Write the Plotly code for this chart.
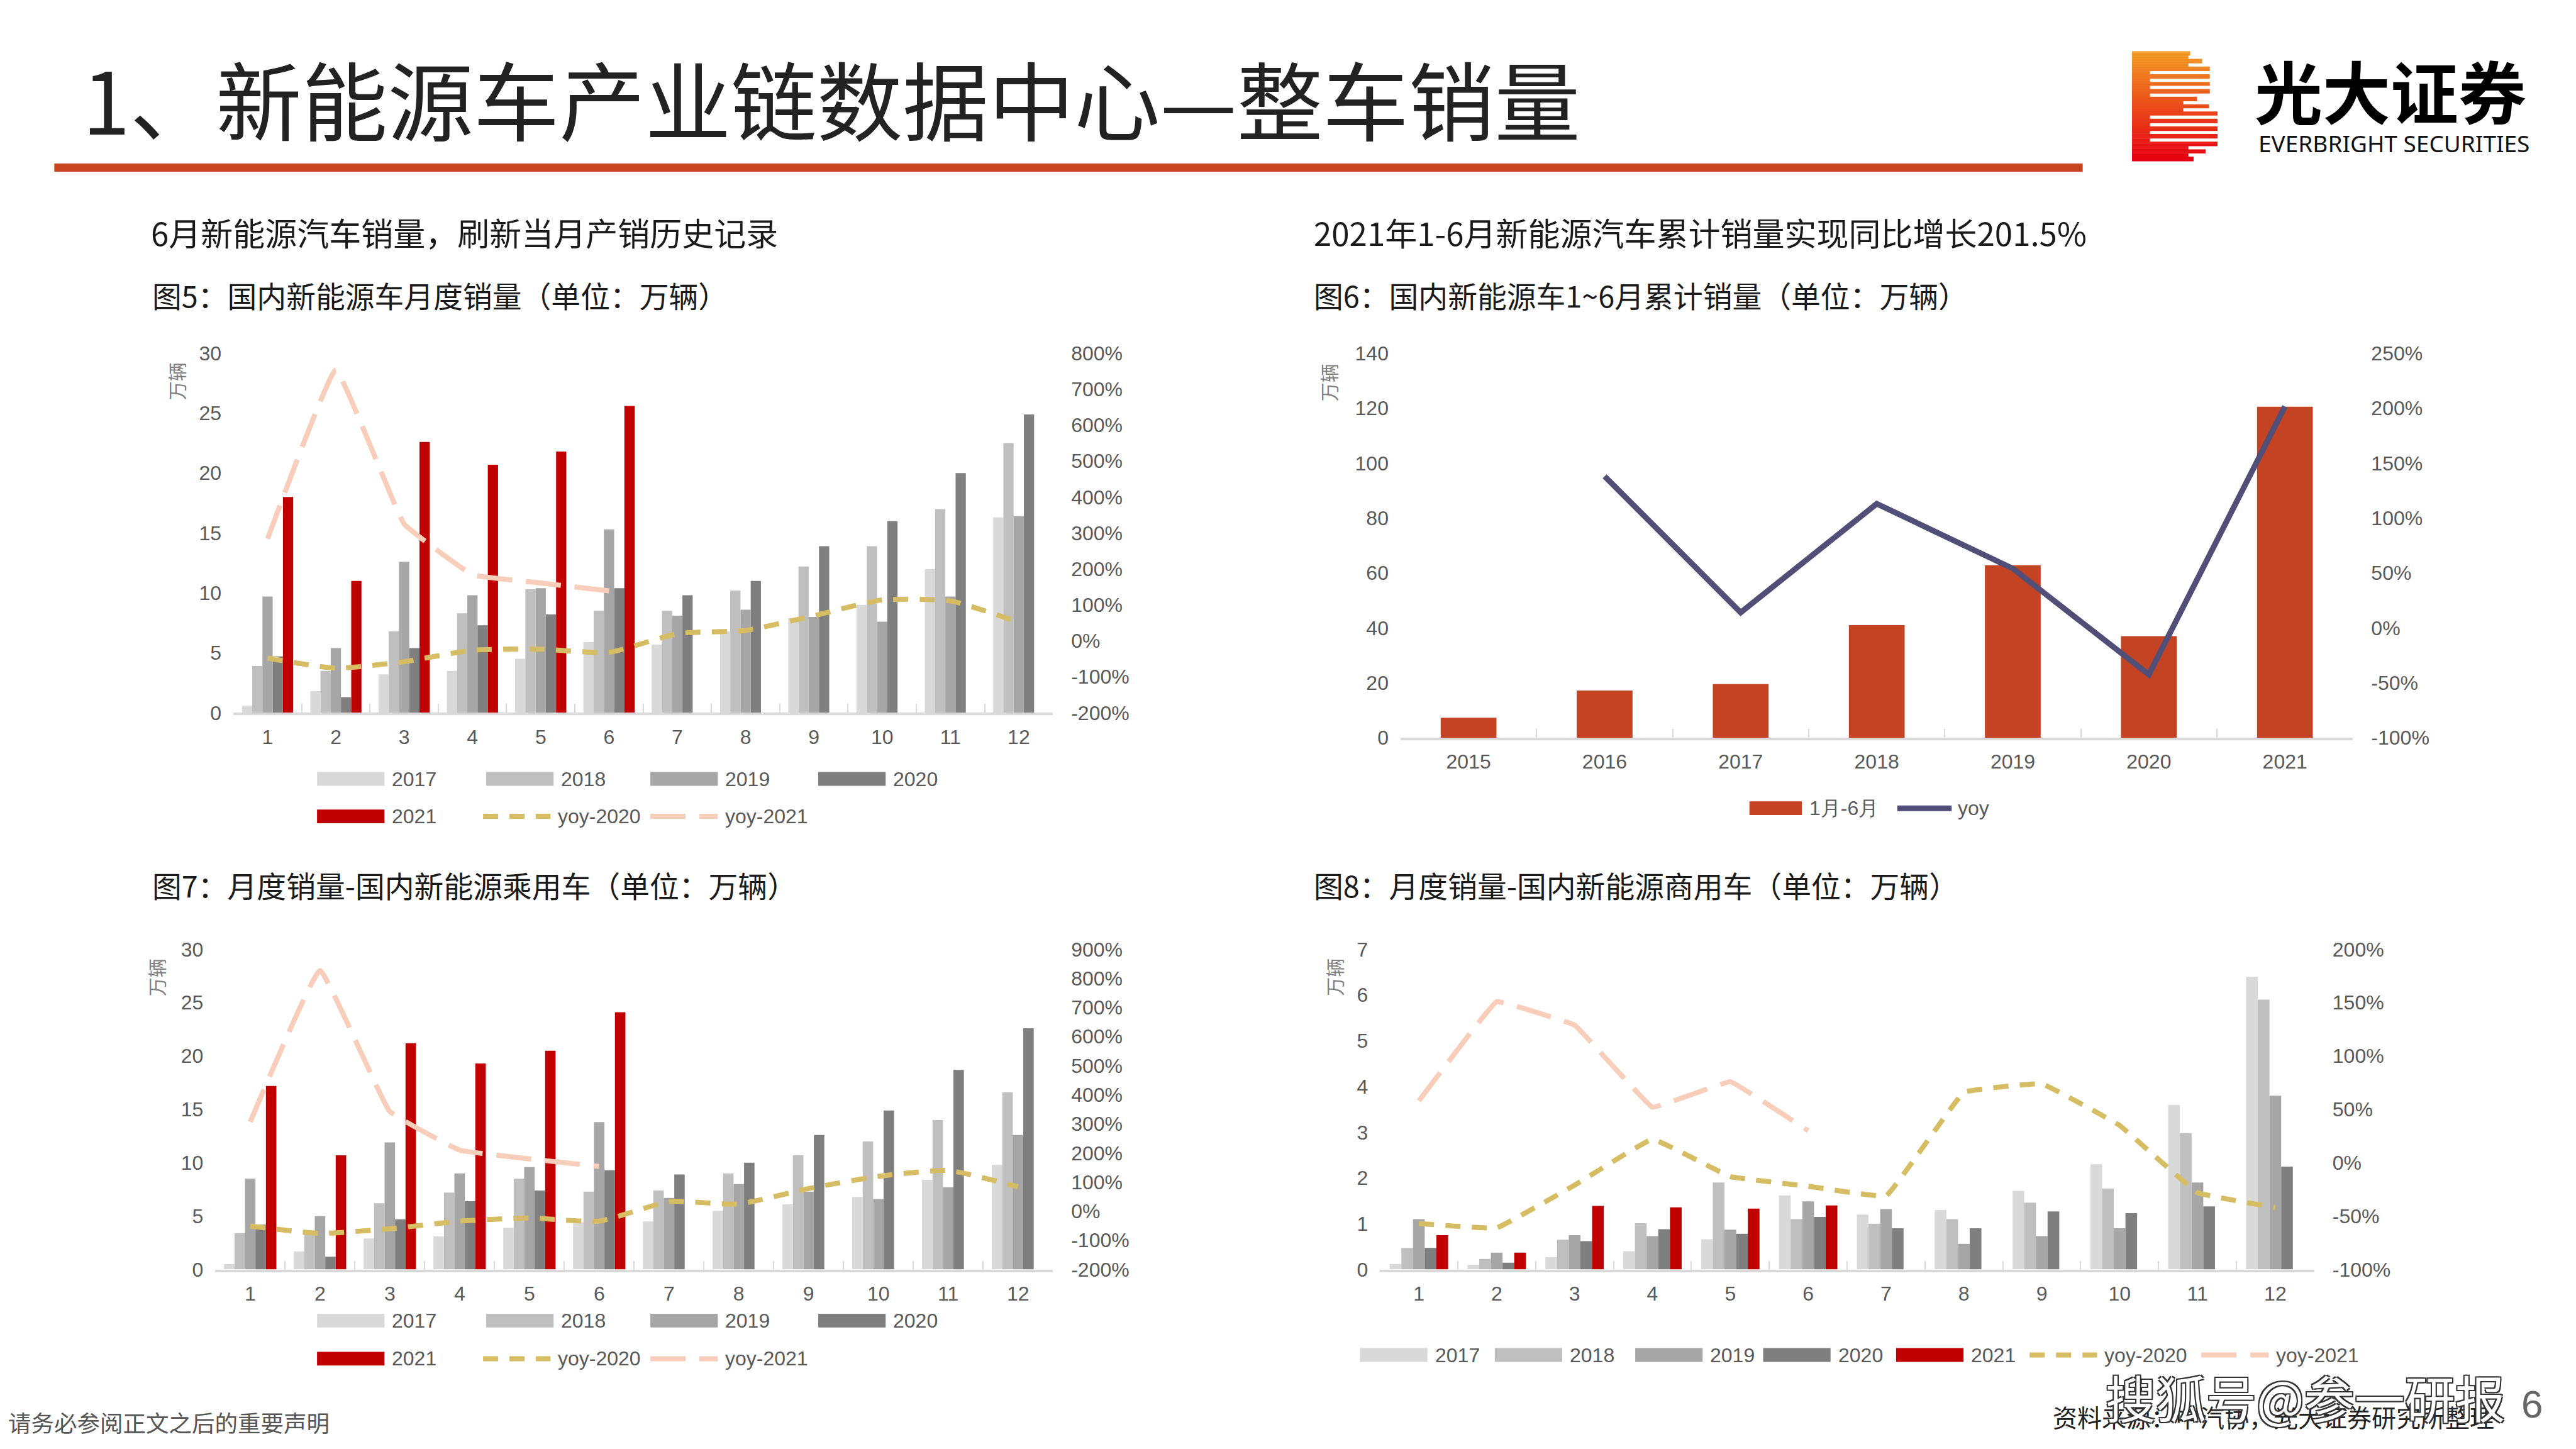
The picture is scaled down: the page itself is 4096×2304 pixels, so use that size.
import plotly.graph_objects as go

MONTHS = [str(i) for i in range(1, 13)]
SERIES_YEARS = ["2017", "2018", "2019", "2020", "2021"]

P5_2017 = [0.6, 1.8, 3.2, 3.5, 4.5, 5.9, 5.7, 6.8, 7.9, 9.0, 12.0, 16.3]
P5_2018 = [3.9, 3.5, 6.8, 8.3, 10.3, 8.5, 8.5, 10.2, 12.2, 13.9, 17.0, 22.5]
P5_2019 = [9.7, 5.4, 12.6, 9.8, 10.4, 15.3, 8.1, 8.6, 8.0, 7.6, 9.7, 16.4]
P5_2020 = [4.7, 1.3, 5.4, 7.3, 8.2, 10.4, 9.8, 11.0, 13.9, 16.0, 20.0, 24.9]
P5_2021 = [18.0, 11.0, 22.6, 20.7, 21.8, 25.6]
P5_YOY20 = [-48, -76, -58, -26, -23, -32, 20, 29, 70, 114, 111, 52]
P5_YOY21 = [284, 754, 325, 184, 161, 139]

P7_2017 = [0.5, 1.7, 2.9, 3.1, 3.9, 4.4, 4.5, 5.5, 6.1, 6.8, 8.4, 9.8]
P7_2018 = [3.4, 3.4, 6.2, 7.2, 8.5, 7.3, 7.4, 9.0, 10.7, 12.0, 14.0, 16.6]
P7_2019 = [8.5, 5.0, 11.9, 9.0, 9.6, 13.8, 6.7, 8.0, 7.3, 6.6, 7.7, 12.6]
P7_2020 = [4.2, 1.2, 4.7, 6.4, 7.4, 9.3, 8.9, 10.0, 12.6, 14.9, 18.7, 22.6]
P7_2021 = [17.2, 10.7, 21.2, 19.3, 20.5, 24.1]
P7_YOY20 = [-51, -76, -60, -34, -23, -34, 33, 25, 78, 120, 140, 84]
P7_YOY21 = [307, 827, 343, 210, 180, 154]

P8_2017 = [0.12, 0.10, 0.27, 0.40, 0.66, 1.62, 1.20, 1.30, 1.72, 2.30, 3.60, 6.40]
P8_2018 = [0.47, 0.23, 0.65, 1.01, 1.90, 1.10, 1.00, 1.10, 1.46, 1.77, 2.98, 5.90]
P8_2019 = [1.10, 0.37, 0.75, 0.73, 0.87, 1.49, 1.32, 0.56, 0.73, 0.90, 1.90, 3.80]
P8_2020 = [0.47, 0.15, 0.62, 0.88, 0.78, 1.15, 0.90, 0.90, 1.27, 1.23, 1.38, 2.25]
P8_2021 = [0.75, 0.37, 1.39, 1.36, 1.33, 1.40]
P8_YOY20 = [-57, -61, -21, 22, -13, -22, -31, 66, 74, 35, -28, -42]
P8_YOY21 = [58, 151, 129, 52, 76, 30]

P6_YEARS = ["2015", "2016", "2017", "2018", "2019", "2020", "2021"]
P6_SALES = [7.3, 17.2, 19.5, 41.0, 62.8, 37.0, 120.5]
P6_YOY = [None, 138, 14, 113, 54, -42.5, 201.5]

GRAYS = ["#D9D9D9", "#BFBFBF", "#A6A6A6", "#7F7F7F", "#C00000"]
GOLD, PEACH, RUST, NAVY = "#D6BC62", "#F8CEBB", "#C44322", "#514F78"
TXT, FONT, CJK = "#595959", "Liberation Sans", "Noto Sans CJK SC"
W, H = 4096, 2304
K = 0.9924
D20, D21 = "24px,18px", "56px,22px"

def px(x): return x * K / W
def py(y): return 1 - y * K / H

fig = go.Figure()
shapes, notes = [], []

def note(x, y, text, size, color=TXT, font=FONT, anchor="left", **kw):
    notes.append(dict(x=px(x), y=py(y), xref="paper", yref="paper", text=text, showarrow=False,
                      xanchor=anchor, yanchor="middle", font=dict(family=font, size=size, color=color, **kw.pop("f", {})), **kw))

def rect(x0, y0, x1, y1, color):
    shapes.append(dict(type="rect", xref="paper", yref="paper", x0=px(x0), x1=px(x1), y0=py(y0), y1=py(y1),
                       fillcolor=color, line=dict(width=0)))

def seg(x0, y, x1, color, width, dash):
    shapes.append(dict(type="line", xref="paper", yref="paper", x0=px(x0), x1=px(x1), y0=py(y), y1=py(y),
                       line=dict(color=color, width=width, dash=dash)))

def axes(i, left, right, top, bottom, ymax, dy, rmin, rmax, rd, cats):
    a, b = 2 * i - 1, 2 * i
    rticks = list(range(rmin, rmax + 1, rd))
    fig.layout[f"xaxis{i}"] = dict(domain=[px(left), px(right)], anchor=f"y{a}", type="category", categoryorder="array",
        categoryarray=cats, showgrid=False, showline=True, linecolor="#D9D9D9", linewidth=4, ticks="inside",
        tickson="boundaries", ticklen=14, tickwidth=2, tickcolor="#D9D9D9", ticklabelstandoff=7,
        tickfont=dict(family=FONT, size=32, color=TXT), zeroline=False)
    fig.layout[f"yaxis{a}"] = dict(domain=[py(bottom), py(top)], anchor=f"x{i}", range=[0, ymax], dtick=dy, showgrid=False,
        zeroline=False, showline=False, ticks="", ticklabelstandoff=18, tickfont=dict(family=FONT, size=32, color=TXT))
    fig.layout[f"yaxis{b}"] = dict(domain=[py(bottom), py(top)], anchor=f"x{i}", overlaying=f"y{a}", side="right",
        range=[rmin, rmax], tickmode="array", tickvals=rticks, ticktext=[f"{v}%" for v in rticks], showgrid=False,
        zeroline=False, showline=False, ticks="", ticklabelstandoff=28, tickfont=dict(family=FONT, size=32, color=TXT))
    return f"x{i}", f"y{a}", f"y{b}"

def monthly(i, geom, ranges, bars, y20, y21, smooth20, smooth21):
    xa, ya, yb = axes(i, *geom, *ranges, MONTHS)
    for name, vals, col in zip(SERIES_YEARS, bars, GRAYS):
        fig.add_trace(go.Bar(x=MONTHS[:len(vals)], y=vals, name=name, marker_color=col, marker_line_width=0,
                             xaxis=xa, yaxis=ya, offsetgroup=name, showlegend=False))
    fig.add_trace(go.Scatter(x=MONTHS, y=y20, name="yoy-2020", mode="lines", xaxis=xa, yaxis=yb, showlegend=False,
                             line=dict(color=GOLD, width=8, dash=D20, shape="spline", smoothing=smooth20)))
    fig.add_trace(go.Scatter(x=MONTHS[:len(y21)], y=y21, name="yoy-2021", mode="lines", xaxis=xa, yaxis=yb, showlegend=False,
                             line=dict(color=PEACH, width=8, dash=D21, shape="spline", smoothing=smooth21)))

monthly(1, (374, 1687, 566, 1142), (30, 5, -200, 800, 100),
        [P5_2017, P5_2018, P5_2019, P5_2020, P5_2021], P5_YOY20, P5_YOY21, 0.5, 0.25)
monthly(3, (345, 1687, 1521, 2034), (30, 5, -200, 900, 100),
        [P7_2017, P7_2018, P7_2019, P7_2020, P7_2021], P7_YOY20, P7_YOY21, 0.5, 0.25)
monthly(4, (2211, 3708, 1521, 2034), (7, 1, -100, 200, 50),
        [P8_2017, P8_2018, P8_2019, P8_2020, P8_2021], P8_YOY20, P8_YOY21, 0.2, 0.15)

xa, ya, yb = axes(2, 2244, 3770, 566, 1182, 140, 20, -100, 250, 50, P6_YEARS)
fig.add_trace(go.Bar(x=P6_YEARS, y=P6_SALES, name="1月-6月", marker_color=RUST, marker_line_width=0, xaxis=xa, yaxis=ya,
                     width=0.41, showlegend=False))
fig.add_trace(go.Scatter(x=P6_YEARS, y=P6_YOY, name="yoy", mode="lines", xaxis=xa, yaxis=yb, showlegend=False,
                         line=dict(color=NAVY, width=9)))

# legends
def legend_items(rows):
    for sx, sw, y, label, col, dash in rows:
        if dash:
            seg(sx, y, sx + sw, col, 8, dash)
        else:
            rect(sx, y - 11, sx + sw, y + 11, col)
        note(sx + sw + 10, y, label, 32)

def two_row(y1, y2):
    return [(508, 108, y1, "2017", GRAYS[0], None), (779, 108, y1, "2018", GRAYS[1], None),
            (1042, 108, y1, "2019", GRAYS[2], None), (1311, 108, y1, "2020", GRAYS[3], None),
            (508, 108, y2, "2021", GRAYS[4], None), (774, 108, y2, "yoy-2020", GOLD, D20),
            (1042, 108, y2, "yoy-2021", PEACH, D21)]

legend_items(two_row(1248, 1308))
legend_items(two_row(2116, 2177))
legend_items([(2179, 108, 2171, "2017", GRAYS[0], None), (2395, 108, 2171, "2018", GRAYS[1], None),
              (2620, 108, 2171, "2019", GRAYS[2], None), (2825, 108, 2171, "2020", GRAYS[3], None),
              (3038, 108, 2171, "2021", GRAYS[4], None), (3252, 108, 2171, "yoy-2020", GOLD, D20),
              (3527, 108, 2171, "yoy-2021", PEACH, D21)])
legend_items([(2803, 84, 1295, "1月-6月", RUST, None)])
seg(3040, 1295, 3127, NAVY, 9, "solid")
note(3135, 1295, "yoy", 32)

# axis unit labels
for x, y in [(282, 611), (2129, 613), (250, 1566), (2137, 1566)]:
    note(x, y, "万辆", 30, "#7F7F7F", CJK, anchor="center", textangle=-90)

# headings
note(130, 156, "1、新能源车产业链数据中心—整车销量", 136.5, "#222222", CJK)
rect(87, 262, 3337, 275, "#C8431F")
note(240, 372, "6月新能源汽车销量，刷新当月产销历史记录", 51, "#1A1A1A", CJK)
note(2103, 372, "2021年1-6月新能源汽车累计销量实现同比增长201.5%", 51, "#1A1A1A", CJK)
note(242, 472, "图5：国内新能源车月度销量（单位：万辆）", 46.8, "#1A1A1A", CJK)
note(2103, 472, "图6：国内新能源车1~6月累计销量（单位：万辆）", 46.8, "#1A1A1A", CJK)
note(242, 1417, "图7：月度销量-国内新能源乘用车（单位：万辆）", 46.8, "#1A1A1A", CJK)
note(2103, 1417, "图8：月度销量-国内新能源商用车（单位：万辆）", 46.8, "#1A1A1A", CJK)

# logo
LX0, LX1, LY0, LY1 = 3416, 3553, 82, 258
rows = 44
for r in range(rows):
    t = r / (rows - 1)
    y0 = LY0 + (LY1 - LY0) * r / rows
    y1 = LY0 + (LY1 - LY0) * (r + 1) / rows
    if t < 0.04: frac = 0.68
    elif t < 0.10: frac = 0.82
    elif t < 0.38: frac = 0.91
    elif t < 0.46: frac = 0.76
    elif t < 0.54: frac = 0.90
    elif t < 0.90: frac = 1.0
    elif t < 0.97: frac = 0.86
    else: frac = 0.72
    c = (int(242 - 12 * t), int(154 * (1 - t)), int(36 * (1 - t) + 18 * t))
    rect(LX0, y0, LX0 + (LX1 - LX0) * frac, y1 + 0.5, f"rgb{c}")
for rel, start, end in [(0.055, 0.66, 1), (0.125, 0.66, 1), (0.195, 0.21, 1), (0.265, 0.21, 1), (0.33, 0.21, 1),
                        (0.40, 0.21, 1), (0.47, 0.6, 1), (0.535, 0.6, 1), (0.60, 0.21, 1), (0.67, 0.21, 1),
                        (0.74, 0.21, 1), (0.81, 0.21, 1), (0.88, 0.66, 1), (0.945, 0.66, 1)]:
    y = LY0 + (LY1 - LY0) * rel
    rect(LX0 + (LX1 - LX0) * start, y - 2.5, LX0 + (LX1 - LX0) * end + 2, y + 2.5, "#FFFFFF")
note(3830, 143, "光大证券", 108, "#000000", CJK, anchor="center", f=dict(weight="bold"))
note(3836, 229, "EVERBRIGHT SECURITIES", 37, "#111111", "Noto Sans", anchor="center")

# footer
note(11, 2279, "请务必参阅正文之后的重要声明", 36.5, "#555555", CJK)
note(3287, 2269, "资料来源：中汽协，光大证券研究所整理", 39, "#222222", CJK)
note(4038, 2250, "6", 62, "#666666", FONT)
note(3372, 2237, "搜狐号@参一研报", 80, "#FFFFFF", CJK,
     f=dict(shadow="-2px -2px 0 #333,2px -2px 0 #333,-2px 2px 0 #333,2px 2px 0 #333"))

fig.update_layout(width=W, height=H, margin=dict(l=0, r=0, t=0, b=0, autoexpand=False), autosize=False,
                  paper_bgcolor="white", plot_bgcolor="rgba(0,0,0,0)", barmode="group", bargap=0.25, bargroupgap=0,
                  showlegend=False, shapes=shapes, annotations=notes)
fig.write_html("out.html", config=dict(displayModeBar=False),
               post_script="document.body.style.margin='0';document.body.style.overflow='hidden';")
